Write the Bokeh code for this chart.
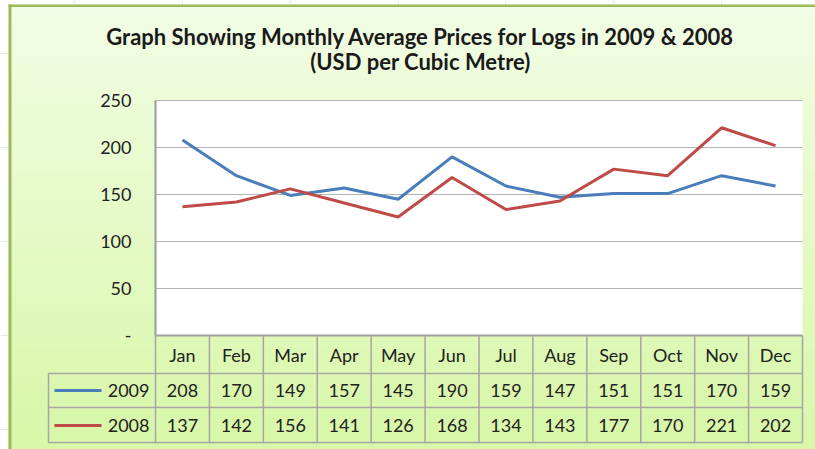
from bokeh.plotting import figure
from bokeh.models import Range1d
from bokeh.core.properties import value
from bokeh.embed import file_html
from bokeh.resources import INLINE

# ---- data ----
months = ["Jan", "Feb", "Mar", "Apr", "May", "Jun", "Jul", "Aug", "Sep", "Oct", "Nov", "Dec"]
prices_2009 = [208, 170, 149, 157, 145, 190, 159, 147, 151, 151, 170, 159]
prices_2008 = [137, 142, 156, 141, 126, 168, 134, 143, 177, 170, 221, 202]
series_names = ["2009", "2008"]
y_ticks = [0, 50, 100, 150, 200, 250]
y_tick_labels = ["-", "50", "100", "150", "200", "250"]
title_lines = ["Graph Showing Monthly Average Prices for Logs in 2009 & 2008",
               "(USD per Cubic Metre)"]

# ---- layout helpers (picture pixel -> data units) ----
PL, PR, PT, PB = 155, 802, 100, 335          # plot area in the picture
W = (PR - PL) / len(months)                   # px per category
KY = (PB - PT) / (y_ticks[-1] - y_ticks[0])   # px per value unit

def X(px):
    return (px - PL) / W - 0.5

def Y(py):
    return (PB - py) / KY

FIG_W, FIG_H = 815, 449
x0, x1 = X(0), X(FIG_W)
y0, y1 = Y(FIG_H), Y(0)

p = figure(width=FIG_W, height=FIG_H, x_range=Range1d(x0, x1), y_range=Range1d(y0, y1),
           output_backend="svg", toolbar_location=None,
           x_axis_location=None, y_axis_location=None, min_border=0)
p.outline_line_color = None
p.background_fill_color = "white"
p.border_fill_color = "white"

# background gradient (inside the outer border)
n = 48
c_top = (242, 253, 229)
c_bot = (216, 247, 168)
gy0, gy1 = Y(FIG_H), Y(4)
tops, bots, cols = [], [], []
for i in range(n):
    t = i / (n - 1)
    r = int(c_top[0] + (c_bot[0] - c_top[0]) * t)
    g = int(c_top[1] + (c_bot[1] - c_top[1]) * t)
    b = int(c_top[2] + (c_bot[2] - c_top[2]) * t)
    tops.append(gy1 - (gy1 - gy0) * i / n)
    bots.append(gy1 - (gy1 - gy0) * (i + 1) / n - 0.5)
    cols.append("#%02x%02x%02x" % (r, g, b))
p.quad(left=X(8), right=x1, top=tops, bottom=bots, fill_color=cols, line_color=None)

# outer green border (left and top)
p.quad(left=X(8), right=X(11), top=Y(4), bottom=y0, fill_color="#9bbb59", line_color=None)
p.quad(left=X(8), right=x1, top=Y(4), bottom=Y(6.5), fill_color="#9bbb59", line_color=None)

# plot area
idx = list(range(len(months)))
p.quad(left=-0.5, right=len(months) - 0.5, top=y_ticks[-1], bottom=y_ticks[0],
       fill_color="white", line_color=None)
p.segment(x0=-0.5, x1=len(months) - 0.5, y0=y_ticks[1:], y1=y_ticks[1:],
          line_color="#b3b3b3", line_width=1.2)

# table cells
row_tops = [PB, 373, 407, 442]
grid_gray = "#a6a6a6"
p.segment(x0=-0.5, x1=len(months) - 0.5, y0=Y(row_tops[0]), y1=Y(row_tops[0]),
          line_color="#a0a0a0", line_width=2.2)
p.segment(x0=X(48), x1=len(months) - 0.5, y0=[Y(v) for v in row_tops[1:]],
          y1=[Y(v) for v in row_tops[1:]], line_color=grid_gray, line_width=1.5)
p.segment(x0=[i - 0.5 for i in range(len(months) + 1)], x1=[i - 0.5 for i in range(len(months) + 1)],
          y0=Y(row_tops[0]), y1=Y(row_tops[-1]), line_color=grid_gray, line_width=1.5)
p.segment(x0=X(48), x1=X(48), y0=Y(row_tops[1]), y1=Y(row_tops[-1]),
          line_color=grid_gray, line_width=1.5)
p.segment(x0=-0.5, x1=-0.5, y0=y_ticks[0], y1=y_ticks[-1], line_color="#a0a0a0", line_width=2.2)

# series lines
colors = ["#4a7ebb", "#be4b48"]
p.line(x=idx, y=prices_2009, line_color=colors[0], line_width=3)
p.line(x=idx, y=prices_2008, line_color=colors[1], line_width=3)

font = value("Lato")
txt = "#222222"

# y tick labels
p.text(x=X(131), y=y_ticks, text=y_tick_labels, text_align="right", text_baseline="middle",
       text_font=font, text_font_size=value("18px"), text_color=txt)

# table text
p.text(x=idx, y=Y(354), text=months, text_align="center", text_baseline="middle",
       text_font=font, text_font_size=value("18px"), text_color=txt)
row_mid = [Y(390), Y(425)]
for r, vals in enumerate([prices_2009, prices_2008]):
    p.text(x=idx, y=row_mid[r], text=[str(v) for v in vals], text_align="center",
           text_baseline="middle", text_font=font, text_font_size=value("18px"), text_color=txt)
    p.text(x=[X(149)], y=[row_mid[r]], text=[series_names[r]], text_align="right",
           text_baseline="middle", text_font=font, text_font_size=value("18px"), text_color=txt)
    p.segment(x0=X(54), x1=X(101), y0=row_mid[r], y1=row_mid[r], line_color=colors[r], line_width=3)

# title
p.text(x=[X(420), X(420)], y=[Y(36), Y(61)], text=title_lines, text_align="center",
       text_baseline="middle", text_font=font, text_font_size=value("22px"),
       text_font_style="bold", text_color="#1a1a1a")

open("out.html", "w").write(file_html(p, INLINE))
